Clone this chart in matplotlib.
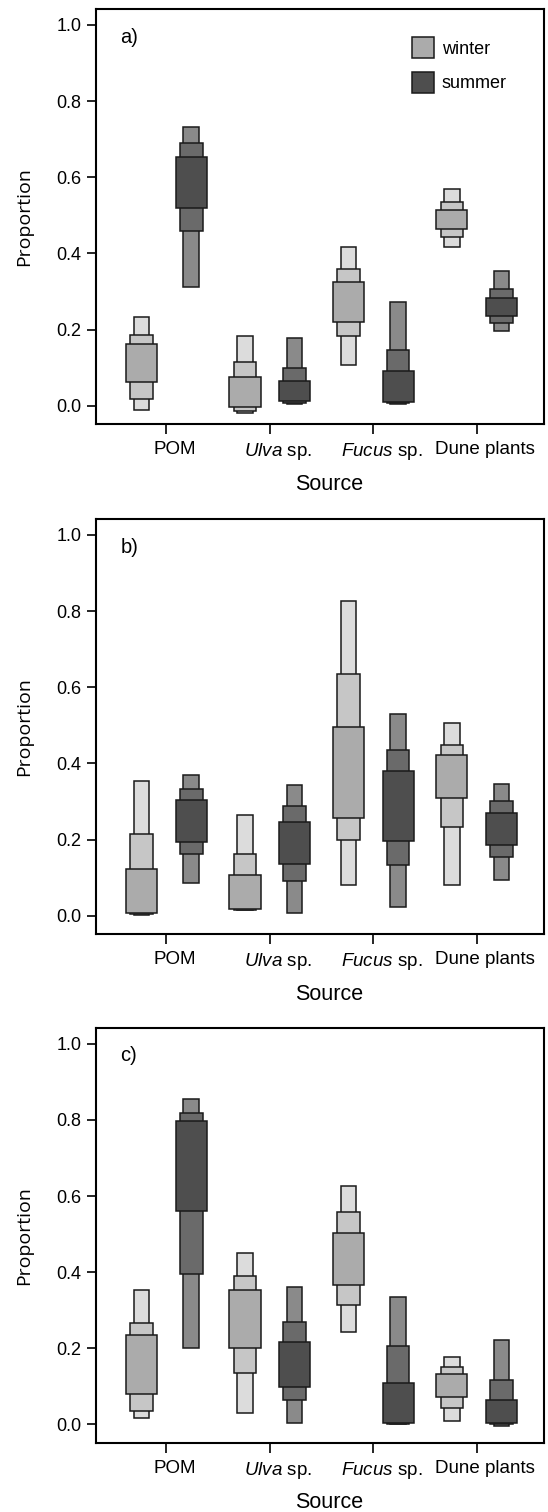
import matplotlib
matplotlib.use("Agg")
import matplotlib.pyplot as plt
import matplotlib.transforms as mtransforms

plt.rcParams['font.family'] = ['Liberation Sans', 'DejaVu Sans']
plt.rcParams['mathtext.fontset'] = 'custom'
plt.rcParams['mathtext.rm'] = 'Liberation Sans'
plt.rcParams['mathtext.it'] = 'Liberation Sans:italic'

sources = ['POM', r'$\it{Ulva}$ sp.', r'$\it{Fucus}$ sp.', 'Dune plants']
seasons = ['winter', 'summer']
panel_labels = ['a)', 'b)', 'c)']

# credible intervals per source: (lo95, hi95), (lo75, hi75), (lo50, hi50)
a_winter = [[(-0.011, 0.234), (0.018, 0.186), (0.061, 0.162)],
            [(-0.019, 0.182), (-0.013, 0.116), (-0.003, 0.076)],
            [(0.108, 0.418), (0.182, 0.359), (0.219, 0.326)],
            [(0.417, 0.570), (0.444, 0.536), (0.465, 0.513)]]
a_summer = [[(0.311, 0.733), (0.459, 0.689), (0.520, 0.654)],
            [(0.004, 0.179), (0.007, 0.099), (0.011, 0.065)],
            [(0.004, 0.271), (0.006, 0.147), (0.010, 0.090)],
            [(0.197, 0.355), (0.218, 0.307), (0.236, 0.284)]]

b_winter = [[(0.002, 0.354), (0.004, 0.214), (0.006, 0.123)],
            [(0.014, 0.264), (0.015, 0.162), (0.018, 0.106)],
            [(0.081, 0.827), (0.199, 0.634), (0.256, 0.496)],
            [(0.081, 0.507), (0.232, 0.448), (0.308, 0.422)]]
b_summer = [[(0.087, 0.370), (0.162, 0.332), (0.194, 0.304)],
            [(0.007, 0.343), (0.090, 0.287), (0.135, 0.245)],
            [(0.024, 0.529), (0.134, 0.435), (0.197, 0.379)],
            [(0.094, 0.347), (0.155, 0.302), (0.186, 0.270)]]

c_winter = [[(0.016, 0.354), (0.035, 0.267), (0.081, 0.236)],
            [(0.031, 0.450), (0.136, 0.389), (0.201, 0.354)],
            [(0.242, 0.625), (0.314, 0.559), (0.367, 0.502)],
            [(0.009, 0.176), (0.042, 0.150), (0.072, 0.132)]]
c_summer = [[(0.201, 0.856), (0.396, 0.817), (0.560, 0.798)],
            [(0.005, 0.360), (0.063, 0.270), (0.098, 0.217)],
            [(0.001, 0.334), (0.002, 0.206), (0.003, 0.108)],
            [(-0.004, 0.223), (0.000, 0.117), (0.003, 0.063)]]

panels = [(a_winter, a_summer), (b_winter, b_summer), (c_winter, c_summer)]

widths = [0.15, 0.22, 0.30]
winter_cols = ['#dcdcdc', '#c6c6c6', '#ababab']
summer_cols = ['#8a8a8a', '#6a6a6a', '#4e4e4e']
edge = '#1a1a1a'
offset = 0.24

fig = plt.figure(figsize=(5.48, 15.12), dpi=100)
bottoms = [0.7196, 0.3823, 0.0458]
shift = mtransforms.ScaledTranslation(0.08, 0, fig.dpi_scale_trans)

for k, (winter, summer) in enumerate(panels):
    ax = fig.add_axes([0.1752, bottoms[k], 0.8175, 0.2745])
    for data, cols, sign in [(winter, winter_cols, -1), (summer, summer_cols, 1)]:
        for i, intervals in enumerate(data):
            x = i + 1 + sign * offset
            for (lo, hi), w, c in zip(intervals, widths, cols):
                ax.bar(x, hi - lo, bottom=lo, width=w, color=c,
                       edgecolor=edge, linewidth=1.1, zorder=2)
    ax.set_xlim(0.32, 4.65)
    ax.set_ylim(-0.048, 1.042)
    ax.set_yticks([0.0, 0.2, 0.4, 0.6, 0.8, 1.0])
    ax.set_yticklabels(['0.0', '0.2', '0.4', '0.6', '0.8', '1.0'], fontsize=13)
    ax.set_xticks([1, 2, 3, 4])
    ax.set_xticklabels(sources, fontsize=13.5)
    ax.tick_params(axis='y', length=6.5, width=1.2, pad=4)
    ax.tick_params(axis='x', length=7.5, width=1.2, pad=5)
    # labels in the original sit a little right of their ticks
    for lab in ax.get_xticklabels():
        lab.set_transform(lab.get_transform() + shift)
    for sp in ax.spines.values():
        sp.set_linewidth(1.5)
    ax.set_xlabel('Source', fontsize=15.5)
    ax.xaxis.set_label_coords(0.52, -0.145)
    ax.xaxis.label.set_va('center')
    ax.set_ylabel('Proportion', fontsize=14, family=['Open Sans', 'DejaVu Sans'])
    ax.yaxis.set_label_coords(-0.161, 0.5)
    ax.yaxis.label.set_va('center')
    ax.text(0.054, 0.932, panel_labels[k], transform=ax.transAxes,
            fontsize=14.5, ha='left', va='center')
    if k == 0:
        handles = [plt.Rectangle((0, 0), 1, 1, facecolor=winter_cols[2], edgecolor=edge, linewidth=1.1),
                   plt.Rectangle((0, 0), 1, 1, facecolor=summer_cols[2], edgecolor=edge, linewidth=1.1)]
        ax.legend(handles, seasons, loc='upper left', bbox_to_anchor=(0.705, 0.932),
                  frameon=False, fontsize=13, borderpad=0, borderaxespad=0,
                  handlelength=1.2, handleheight=1.44, labelspacing=0.74,
                  handletextpad=0.45)

fig.savefig('out.png', dpi=100)
